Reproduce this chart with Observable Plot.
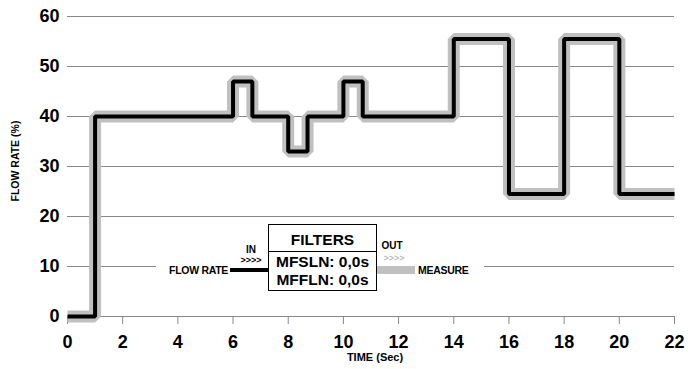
<!DOCTYPE html>
<html>
<head>
<meta charset="utf-8">
<script src="https://cdn.jsdelivr.net/npm/d3@7"></script>
<script src="https://cdn.jsdelivr.net/npm/@observablehq/plot@0.6"></script>
<style>
  html, body { margin: 0; padding: 0; background: #fff; }
  #chart { width: 688px; height: 369px; }
</style>
</head>
<body>
<div id="chart"></div>
<script>
// Data (step function, value holds until next time)
const times    = [0, 1, 6, 6.7, 8, 8.7, 10, 10.7, 14, 16, 18, 20, 22];
const flowRate = [0, 40, 47, 40, 33, 40, 47, 40, 55.5, 24.5, 55.5, 24.5, 24.5];
const measure  = [0, 40, 47, 40, 33, 40, 47, 40, 55.5, 24.5, 55.5, 24.5, 24.5];
const xTicks = [0, 2, 4, 6, 8, 10, 12, 14, 16, 18, 20, 22];
const yTicks = [0, 10, 20, 30, 40, 50, 60];
const xLabel = "TIME (Sec)";
const yLabel = "FLOW RATE (%)";
const filterTitle = "FILTERS";
const filterLines = ["MFSLN: 0,0s", "MFFLN: 0,0s"];

const FONT = "'Liberation Sans', Arial, sans-serif";
const flowData = times.map((t, i) => ({t, v: flowRate[i]}));
const measData = times.map((t, i) => ({t, v: measure[i]}));

const svg = Plot.plot({
  width: 688,
  height: 369,
  marginLeft: 67,
  marginRight: 14,
  marginTop: 16,
  marginBottom: 53,
  style: {fontFamily: FONT, fontWeight: "bold", fontSize: "18px", background: "#fff", color: "#000"},
  x: {domain: [0, 22]},
  y: {domain: [0, 60]},
  marks: [
    Plot.ruleY(yTicks, {stroke: "#888", strokeWidth: 1}),
    Plot.axisX({ticks: xTicks, tickSize: 8, tickPadding: 11, stroke: "#888", tickFormat: d => String(d), label: null, fontSize: 18, fontWeight: "bold"}),
    Plot.axisY({ticks: yTicks, tickSize: 0, tickPadding: 8, tickFormat: d => String(d), label: null, fontSize: 18, fontWeight: "bold"}),
    Plot.line(measData, {x: "t", y: "v", curve: "step-after", stroke: "#c0c0c0", strokeWidth: 12, strokeLinejoin: "miter", strokeLinecap: "butt"}),
    Plot.line(flowData, {x: "t", y: "v", curve: "step-after", stroke: "#000", strokeWidth: 4, strokeLinejoin: "miter", strokeLinecap: "butt"}),
    Plot.text([yLabel], {frameAnchor: "left", rotate: -90, dx: -52, dy: 35, fontSize: 10.5, fontWeight: "bold", fill: "#000"}),
    Plot.text([xLabel], {frameAnchor: "bottom", dx: 4, dy: 44, fontSize: 11, fontWeight: "bold", fill: "#000"})
  ]
});

// Filter diagram (legend) overlay
const g = d3.select(svg).append("g").attr("font-family", FONT).attr("font-weight", "bold");
g.append("rect").attr("x", 156).attr("y", 226).attr("width", 328).attr("height", 64).attr("fill", "#fff");
g.append("line").attr("x1", 230).attr("x2", 268).attr("y1", 270).attr("y2", 270).attr("stroke", "#000").attr("stroke-width", 4);
g.append("line").attr("x1", 377).attr("x2", 415).attr("y1", 270).attr("y2", 270).attr("stroke", "#c0c0c0").attr("stroke-width", 8);
g.append("rect").attr("x", 268.5).attr("y", 224.5).attr("width", 108).attr("height", 66).attr("fill", "#fff").attr("stroke", "#000").attr("stroke-width", 1);
g.append("line").attr("x1", 268.5).attr("x2", 376.5).attr("y1", 251.5).attr("y2", 251.5).attr("stroke", "#000").attr("stroke-width", 1);
g.append("text").attr("x", 322.5).attr("y", 245).attr("text-anchor", "middle").attr("font-size", 15.5).text(filterTitle);
g.append("text").attr("x", 322.5).attr("y", 267).attr("text-anchor", "middle").attr("font-size", 15.5).text(filterLines[0]);
g.append("text").attr("x", 322.5).attr("y", 285).attr("text-anchor", "middle").attr("font-size", 15.5).text(filterLines[1]);
g.append("text").attr("x", 251).attr("y", 253).attr("text-anchor", "middle").attr("font-size", 10).text("IN");
g.append("text").attr("x", 251).attr("y", 263).attr("text-anchor", "middle").attr("font-size", 9).text(">>>>");
g.append("text").attr("x", 392).attr("y", 249).attr("text-anchor", "middle").attr("font-size", 10).text("OUT");
g.append("text").attr("x", 394).attr("y", 261).attr("text-anchor", "middle").attr("font-size", 9).attr("fill", "#bbb").text(">>>>");
g.append("text").attr("x", 228).attr("y", 274).attr("text-anchor", "end").attr("font-size", 10.5).attr("letter-spacing", "-0.3px").text("FLOW RATE");
g.append("text").attr("x", 418).attr("y", 274).attr("text-anchor", "start").attr("font-size", 10.5).attr("letter-spacing", "-0.3px").text("MEASURE");

document.getElementById("chart").appendChild(svg);
</script>
</body>
</html>
